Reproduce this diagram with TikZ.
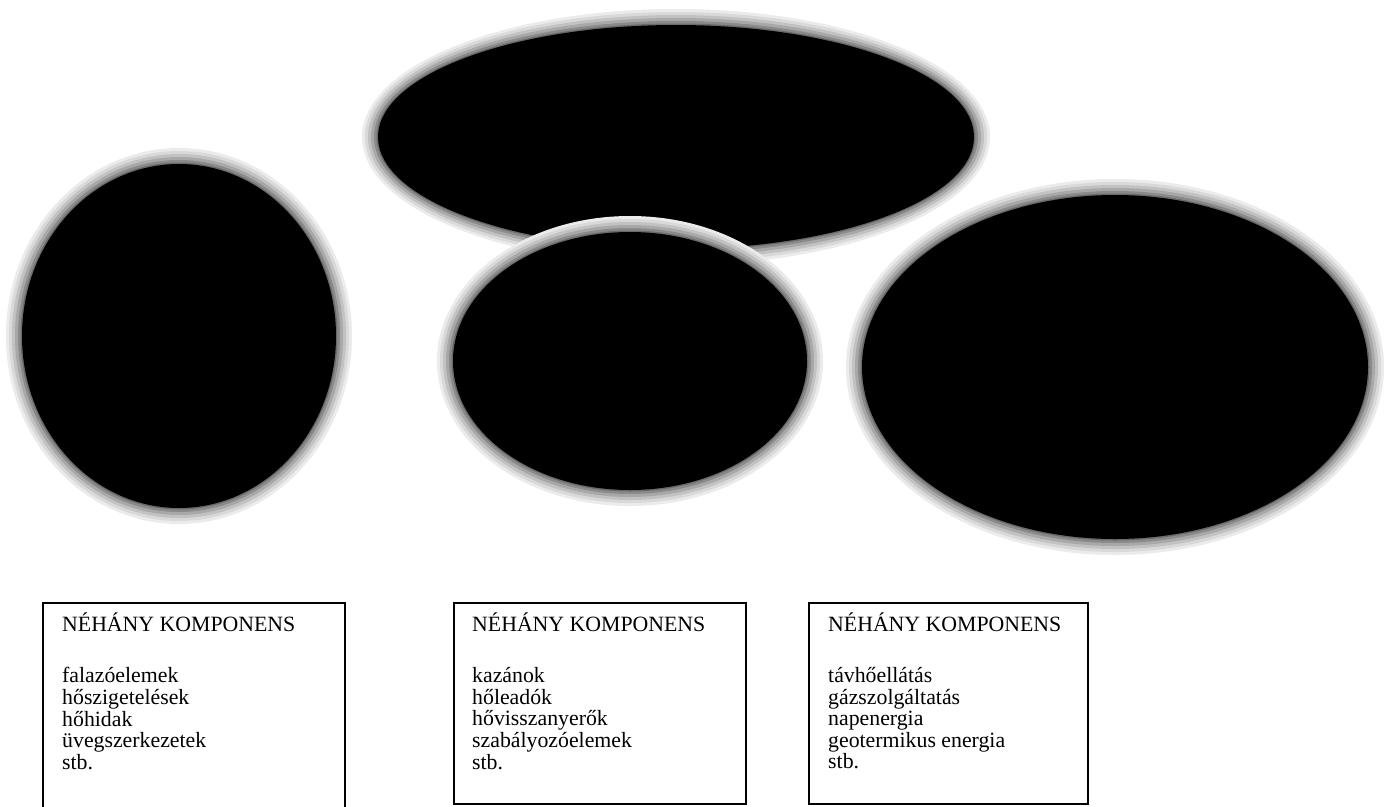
\documentclass[tikz,border=0pt]{standalone}
\usepackage{fontspec}
\setmainfont{Liberation Serif}
\usetikzlibrary{shapes.geometric}
\tikzset{
  blob/.style={ellipse, fill=black, draw=none, inner sep=0pt},
  compbox/.style={draw=black, line width=1.8pt, anchor=north west, inner sep=0pt},
  comptext/.style={anchor=base west, inner sep=0pt, font=\fontsize{21.8}{21.5}\selectfont},
}
% name, cx, cy, rx, ry
\newcommand\haloblob[5]{%
  \foreach \d/\g in {16/8,13/15,10/24,7/34,4/46,1.5/58}{%
    \fill[black!\g] (#2,#3) ellipse [x radius={#4pt+\d pt}, y radius={#5pt+\d pt}];
  }%
  \node[blob, minimum width={2*#4pt}, minimum height={2*#5pt}] (#1) at (#2,#3) {};
}
\newcommand\complist[1]{\begin{tabular}[t]{@{}l@{}}#1\end{tabular}}
\begin{document}
\begin{tikzpicture}[x=1pt, y=-1pt]
  \useasboundingbox (0,0) rectangle (1384,806);
  \clip (0,0) rectangle (1384,806);
  \fill[white] (0,0) rectangle (1384,806);

  \haloblob{epit}{179}{336}{157}{172}
  \haloblob{ellat}{1115}{367}{253}{172}
  \haloblob{top}{676}{137}{298}{112}
  \haloblob{gep}{630}{361}{177}{129}

  \node[compbox, minimum width=302pt, minimum height=212pt] (box1) at (42,602) {};
  \node[compbox, minimum width=292pt, minimum height=201pt] (box2) at (453,602) {};
  \node[compbox, minimum width=279pt, minimum height=201pt] (box3) at (808,602) {};

  \node[comptext] (t1) at (62,631) {\complist{NÉHÁNY KOMPONENS\\[30pt]
    falazóelemek\\ hőszigetelések\\ hőhidak\\ üvegszerkezetek\\ stb.}};
  \node[comptext] (t2) at (472,631) {\complist{NÉHÁNY KOMPONENS\\[30pt]
    kazánok\\ hőleadók\\ hővisszanyerők\\ szabályozóelemek\\ stb.}};
  \node[comptext] (t3) at (828,631) {\complist{NÉHÁNY KOMPONENS\\[30pt]
    távhőellátás\\ gázszolgáltatás\\ napenergia\\ geotermikus energia\\ stb.}};
\end{tikzpicture}
\end{document}
